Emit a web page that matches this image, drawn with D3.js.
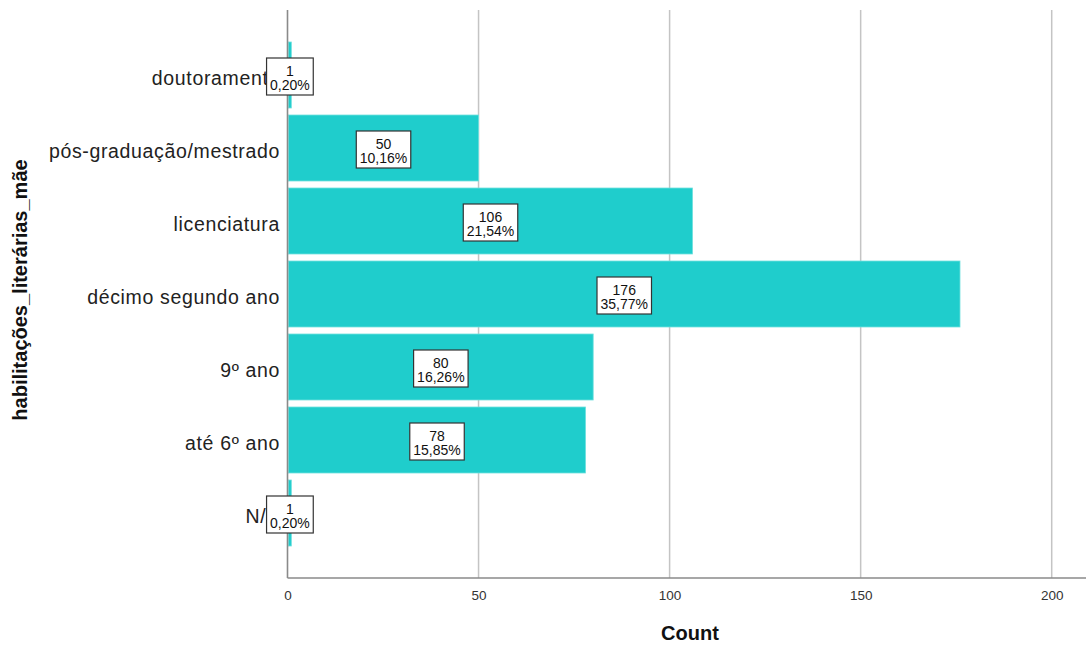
<!DOCTYPE html>
<html><head><meta charset="utf-8">
<script src="https://cdn.jsdelivr.net/npm/d3@7"></script>
<style>
body{margin:0;background:#fff;}
svg{display:block;font-family:"Liberation Sans",Arial,sans-serif;}
</style></head>
<body>
<svg id="c" width="1086" height="645"></svg>
<script>
const categories = ["doutoramento","pós-graduação/mestrado","licenciatura","décimo segundo ano","9º ano","até 6º ano","N/A"];
const counts = [1,50,106,176,80,78,1];
const percents = ["0,20%","10,16%","21,54%","35,77%","16,26%","15,85%","0,20%"];
const xTicks = [0,50,100,150,200];

const svg = d3.select("#c");
const x0 = 287.5, plotTop = 10, plotBottom = 578;
const x = d3.scaleLinear().domain([0,200]).range([x0,1051.7]);
const y = d3.scaleBand().domain(categories).range([38.5,549.5]).paddingInner(0.096).paddingOuter(0.048);

// gridlines
svg.append("g").selectAll("line").data(xTicks.filter(d=>d>0)).join("line")
  .attr("x1",d=>x(d)).attr("x2",d=>x(d)).attr("y1",plotTop).attr("y2",plotBottom)
  .attr("stroke","#c4c4c4").attr("stroke-width",1.5);

// bars
svg.append("g").selectAll("rect").data(categories).join("rect")
  .attr("x",x0+1).attr("y",d=>y(d))
  .attr("width",(d,i)=>Math.max(0,x(counts[i])-x0-1))
  .attr("height",y.bandwidth())
  .attr("fill","#1fcdcc").attr("stroke","#6fe0de").attr("stroke-width",0.8);

// category labels
svg.append("g").selectAll("text").data(categories).join("text")
  .attr("x",280).attr("y",d=>y(d)+y.bandwidth()/2+10)
  .attr("text-anchor","end").attr("font-size",19.5).attr("letter-spacing",0.65).attr("fill","#222")
  .text(d=>d);

// axes
const xAxis = d3.axisBottom(x).tickValues(xTicks).tickSize(0).tickPadding(12);
const gx = svg.append("g").attr("transform",`translate(0,${plotBottom})`).call(xAxis);
gx.select(".domain").remove();
gx.selectAll("text").attr("font-size",13.5).attr("fill","#333").attr("font-family","Liberation Sans, Arial, sans-serif");
svg.append("line").attr("x1",x0).attr("x2",1086).attr("y1",plotBottom).attr("y2",plotBottom)
  .attr("stroke","#8a8a8a").attr("stroke-width",1.6);
svg.append("line").attr("x1",x0).attr("x2",x0).attr("y1",plotTop).attr("y2",plotBottom)
  .attr("stroke","#8a8a8a").attr("stroke-width",1.6);

// value label boxes
const lg = svg.append("g");
categories.forEach((c,i)=>{
  const cx = (x0 + x(counts[i]))/2 + 0.5;
  const cy = y(c)+y.bandwidth()/2;
  const g = lg.append("g");
  const t1 = g.append("text").attr("x",cx).attr("y",cy+1).attr("text-anchor","middle")
    .attr("font-size",14).attr("fill","#111").text(counts[i]);
  const t2 = g.append("text").attr("x",cx).attr("y",cy+15).attr("text-anchor","middle")
    .attr("font-size",14).attr("fill","#111").text(percents[i]);
  const w = Math.max(t1.node().getComputedTextLength(), t2.node().getComputedTextLength()) + 7;
  g.insert("rect","text").attr("x",cx-w/2).attr("y",cy-17).attr("width",w).attr("height",37)
    .attr("fill","#fff").attr("stroke","#333").attr("stroke-width",1.2);
});

// titles
svg.append("text").attr("x",690).attr("y",640).attr("text-anchor","middle")
  .attr("font-size",20).attr("font-weight","bold").attr("fill","#111").text("Count");
svg.append("text").attr("transform","translate(27,290) rotate(-90)").attr("text-anchor","middle")
  .attr("font-size",20).attr("font-weight","bold").attr("fill","#111").text("habilitações_literárias_mãe");
</script>
</body></html>
